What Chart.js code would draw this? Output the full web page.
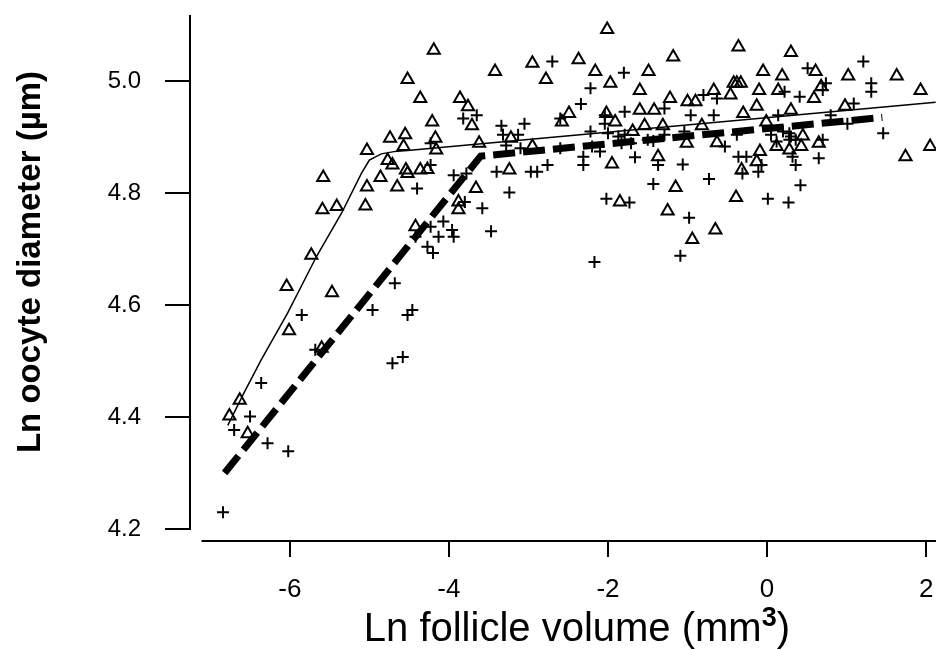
<!DOCTYPE html>
<html>
<head>
<meta charset="utf-8">
<script src="https://cdn.jsdelivr.net/npm/chart.js@4.4.1/dist/chart.umd.min.js"></script>
<style>
  html, body { margin: 0; padding: 0; background: #fff; }
  #wrap { width: 945px; height: 649px; }
</style>
</head>
<body>
<div id="wrap"><canvas id="chart" width="945" height="649"></canvas></div>
<script>
// open triangles
const triX = [
  -4.19, -4.52, -4.36, -3.42, -3.86, -3.76, -4.21, -3.71, -4.74, -4.55,
  -4.57, -4.17, -4.16, -5.03, -3.62, -4.77, -4.71, -4.54, -4.52, -4.36,
  -4.27, -4.86, -5.58, -5.03, -4.65, -3.66, -5.59, -5.41, -5.05, -3.88,
  -3.88, -5.73, -4.42, -6.04, -5.47, -6.01, -6.63, -6.76, -6.53, -5.60,
  -2.95, -2.78, -2.49, -2.58, -3.22, -2.95, -3.24, -2.37, -2.16, -2.01,
  -1.97, -1.49, -1.60, -1.18, -1.22, -1.60, -1.42, -0.36, 0.30, -0.05,
  0.19, 0.61, 1.02, 1.63, 1.93, 2.05, 1.74, -0.42, -0.38, -0.33,
  -0.10, 0.14, -0.46, -0.67, -0.13, 0.30, 0.68, 0.59, 0.98, -1.00,
  -0.90, -0.30, -1.91, -1.54, -1.69, -1.31, -0.82, -1.01, -0.63, -0.01,
  0.45, 0.43, 0.65, 0.12, -0.09, 0.28, -0.13, -0.32, -1.37, -1.95,
  -1.85, -1.15, -1.25, -0.94, -0.39, -0.65, -2.02
];
const triY = [
  5.055, 5.003, 4.969, 5.017, 4.969, 4.954, 4.927, 4.920, 4.898, 4.904,
  4.883, 4.898, 4.877, 4.876, 4.889, 4.858, 4.850, 4.841, 4.835, 4.841,
  4.842, 4.828, 4.828, 4.811, 4.811, 4.808, 4.770, 4.776, 4.777, 4.784,
  4.770, 4.689, 4.740, 4.633, 4.622, 4.554, 4.430, 4.402, 4.370, 4.523,
  5.032, 5.003, 4.942, 4.927, 4.898, 4.883, 4.841, 5.038, 5.017, 5.092,
  4.996, 5.017, 4.983, 5.043, 4.969, 4.948, 4.948, 5.061, 5.051, 5.017,
  5.009, 5.017, 5.009, 5.009, 4.983, 4.883, 4.865, 4.996, 4.996, 4.996,
  4.983, 4.983, 4.975, 4.983, 4.955, 4.948, 4.990, 4.969, 4.955, 4.963,
  4.963, 4.942, 4.927, 4.920, 4.910, 4.920, 4.920, 4.889, 4.890, 4.927,
  4.902, 4.883, 4.889, 4.883, 4.874, 4.877, 4.856, 4.841, 4.865, 4.852,
  4.784, 4.810, 4.768, 4.717, 4.792, 4.734, 4.942
];

// plus signs
const plusX = [
  -6.84, -6.70, -6.50, -6.36, -6.28, -6.02, -5.85, -5.68, -4.96, -4.68,
  -4.71, -4.58, -4.52, -4.46, -2.70, -3.65, -3.82, -3.34, -3.05, -3.32,
  -3.13, -3.40, -2.97, -2.89, -2.76, -4.23, -4.40, -3.94, -3.78, -3.24,
  -3.80, -3.58, -3.47, -4.07, -3.96, -3.94, -4.13, -4.27, -4.20, -4.42,
  -4.23, -1.80, -2.22, -2.34, -2.60, -2.22, -2.04, -2.04, -2.00, -1.79,
  -1.79, -1.87, -2.10, -2.31, -2.31, -1.66, -1.06, -1.37, -1.43, -2.02,
  -1.73, -2.17, -0.98, -1.09, -0.73, -0.53, -0.36, -0.26, -0.07, -0.11,
  -0.31, 0.01, 0.27, 0.42, 0.36, 0.65, 0.32, 0.70, 0.30, 0.20,
  0.41, 0.22, 0.51, 0.74, 0.70, 1.21, 1.31, 1.31, 1.09, 0.80,
  1.01, 1.46, -0.96, -0.67, -1.29, -0.63, -0.80, -0.38, -1.04, -1.43,
  0.05, 0.12, -1.83, -1.29, -1.50, 0.28, 0.28, 0.36, 0.14, -2.20,
  -1.71, -3.28, -3.10, -2.60, -4.23
];
const plusY = [
  4.230, 4.377, 4.401, 4.461, 4.353, 4.339, 4.582, 4.520, 4.591, 4.639,
  4.496, 4.507, 4.582, 4.591, 5.035, 4.939, 4.933, 4.920, 4.924, 4.904,
  4.904, 4.838, 4.838, 4.838, 4.850, 4.850, 4.808, 4.832, 4.835, 4.801,
  4.784, 4.773, 4.732, 4.749, 4.734, 4.722, 4.722, 4.704, 4.693, 4.722,
  4.740, 5.015, 4.987, 4.959, 4.933, 4.910, 4.939, 4.924, 4.907, 4.945,
  4.904, 4.901, 4.874, 4.865, 4.850, 4.864, 4.851, 4.850, 4.816, 4.790,
  4.783, 4.677, 4.756, 4.688, 4.825, 4.883, 4.865, 4.865, 4.850, 4.838,
  4.835, 4.790, 4.783, 4.814, 4.850, 4.862, 4.865, 4.895, 4.901, 4.910,
  4.972, 4.981, 5.023, 4.996, 4.984, 5.035, 4.996, 4.981, 4.960, 4.939,
  4.924, 4.907, 4.939, 4.939, 4.951, 4.969, 4.975, 4.904, 4.910, 4.893,
  4.904, 4.892, 4.889, 4.904, 4.895, 4.907, 4.895, 4.895, 4.939, 4.883,
  4.889, 4.885, 4.880, 4.880, 4.889
];

// fitted curves (vertices)
const fitTriX = [-6.78, -6.57, -6.36, -6.03, -5.66, -5.35, -5.10, -5.00, -4.85, -4.69, -4.52, 2.12];
const fitTriY = [4.385, 4.445, 4.502, 4.585, 4.688, 4.764, 4.835, 4.859, 4.870, 4.874, 4.876, 4.962];
const fitPlusX = [-6.82, -3.60, 1.45];
const fitPlusY = [4.300, 4.866, 4.935];

const xTicks = [-6, -4, -2, 0, 2];
const yTicks = [4.2, 4.4, 4.6, 4.8, 5.0];
const xAxisStart = -7.11;

const toPoints = (xs, ys) => xs.map((x, i) => ({ x, y: ys[i] }));

const FONT = '"Liberation Sans", Arial, sans-serif';

const frame = {
  id: 'frame',
  afterDraw(chart) {
    const { ctx, chartArea, scales } = chart;
    const x = scales.x;
    const y = scales.y;

    ctx.save();
    ctx.strokeStyle = '#000';
    ctx.lineWidth = 2;
    ctx.beginPath();
    ctx.moveTo(chartArea.left, chartArea.top);
    ctx.lineTo(chartArea.left, y.getPixelForValue(yTicks[0]) + 1);
    ctx.moveTo(x.getPixelForValue(xAxisStart), chartArea.bottom);
    ctx.lineTo(chartArea.right, chartArea.bottom);
    ctx.stroke();

    ctx.fillStyle = '#000';

    // y title
    ctx.save();
    ctx.translate(31, 262);
    ctx.rotate(-Math.PI / 2);
    ctx.font = 'bold 33px ' + FONT;
    ctx.textAlign = 'center';
    ctx.textBaseline = 'middle';
    ctx.fillText('Ln oocyte diameter (\u00b5m)', 0, 0);
    ctx.restore();

    // x title with superscript
    const main = 'Ln follicle volume (mm';
    const big = '40px ' + FONT;
    const small = 'bold 27px ' + FONT;
    ctx.font = big;
    const wMain = ctx.measureText(main).width;
    const wClose = ctx.measureText(')').width;
    ctx.font = small;
    const wSup = ctx.measureText('3').width;
    const right = 790;
    const base = 641;
    let cx = right - (wMain + wSup + wClose);
    ctx.textAlign = 'left';
    ctx.textBaseline = 'alphabetic';
    ctx.font = big;
    ctx.fillText(main, cx, base);
    cx += wMain;
    ctx.font = small;
    ctx.fillText('3', cx, base - 15);
    cx += wSup;
    ctx.font = big;
    ctx.fillText(')', cx, base);
    ctx.restore();
  }
};

new Chart(document.getElementById('chart'), {
  type: 'scatter',
  data: {
    datasets: [
      {
        label: 'triangles',
        data: toPoints(triX, triY),
        pointStyle: 'triangle',
        pointRadius: 7,
        borderColor: '#000',
        borderWidth: 2,
        backgroundColor: 'rgba(0,0,0,0)',
      },
      {
        label: 'plus',
        data: toPoints(plusX, plusY),
        pointStyle: 'cross',
        pointRadius: 6,
        borderColor: '#000',
        borderWidth: 2,
      },
      {
        type: 'line',
        label: 'fit triangles',
        data: toPoints(fitTriX, fitTriY),
        borderColor: '#000',
        borderWidth: 1.5,
        pointRadius: 0,
        fill: false,
        tension: 0,
      },
      {
        type: 'line',
        label: 'fit plus',
        data: toPoints(fitPlusX, fitPlusY),
        borderColor: '#000',
        borderWidth: 7,
        borderDash: [22, 8],
        borderCapStyle: 'butt',
        pointRadius: 0,
        fill: false,
        tension: 0,
      },
    ],
  },
  options: {
    responsive: false,
    animation: false,
    devicePixelRatio: 1,
    events: [],
    layout: { padding: { top: 15, right: 0, bottom: 0, left: 0 } },
    plugins: {
      legend: { display: false },
      tooltip: { enabled: false },
    },
    scales: {
      x: {
        type: 'linear',
        min: -7.255,
        max: 2.124,
        afterFit: (s) => {
          s.height = 108;
          s.paddingLeft = 0;
          s.paddingRight = 0;
        },
        afterBuildTicks: (s) => { s.ticks = xTicks.map((v) => ({ value: v })); },
        border: { display: false },
        grid: {
          drawOnChartArea: false,
          drawTicks: true,
          tickLength: 16,
          tickWidth: 2,
          lineWidth: 2,
          color: '#000',
        },
        ticks: {
          color: '#000',
          padding: 17,
          maxRotation: 0,
          font: { family: FONT, size: 26 },
          callback: (v) => String(v),
        },
      },
      y: {
        type: 'linear',
        min: 4.1786,
        max: 5.118,
        afterFit: (s) => {
          s.width = 190;
          s.paddingTop = 0;
          s.paddingBottom = 0;
        },
        afterBuildTicks: (s) => { s.ticks = yTicks.map((v) => ({ value: v })); },
        border: { display: false },
        grid: {
          drawOnChartArea: false,
          drawTicks: true,
          tickLength: 25,
          tickWidth: 2,
          lineWidth: 2,
          color: '#000',
        },
        ticks: {
          color: '#000',
          padding: 24,
          font: { family: FONT, size: 24 },
          callback: (v) => v.toFixed(1),
        },
      },
    },
  },
  plugins: [frame],
});
</script>
</body>
</html>
